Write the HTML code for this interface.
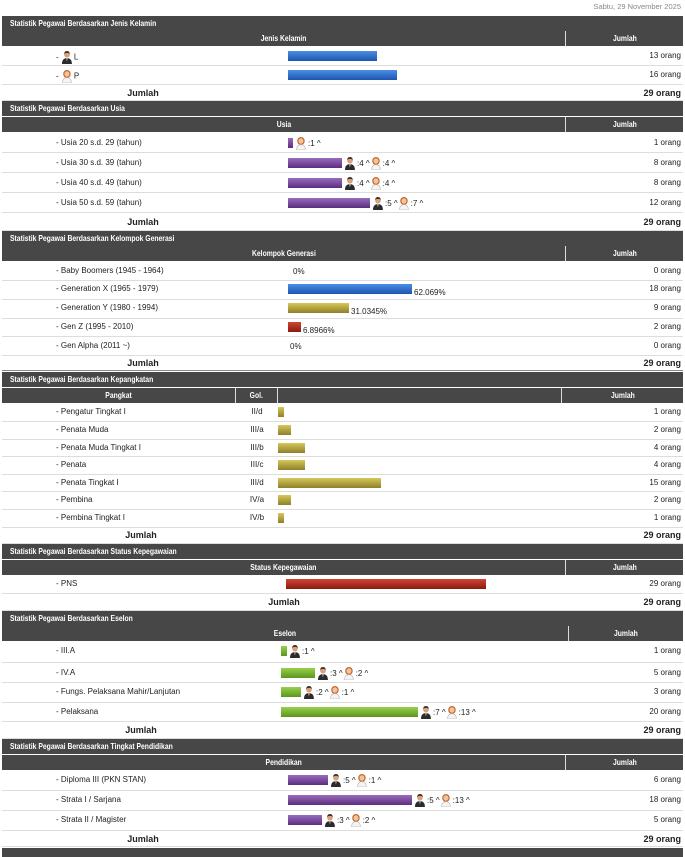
<!DOCTYPE html>
<html><head><meta charset="utf-8"><style>
*{margin:0;padding:0;box-sizing:border-box}
body{width:685px;height:857px;background:#fff;position:relative;overflow:hidden;font-family:"Liberation Sans",sans-serif;color:#222}
.a{position:absolute;white-space:nowrap}
.T{position:absolute;left:2px;width:681px;height:15px;background:#474747;color:#fff;font-weight:bold;font-size:8.5px;line-height:15px;padding-left:8px}
.T span{display:inline-block;transform:scaleX(.8);transform-origin:left center}
.H{position:absolute;height:15px;background:#474747;color:#fff;font-size:8.5px;font-weight:bold;line-height:15px;text-align:center;border-right:1px solid #ddd}
.H span{display:inline-block;transform:scaleX(.8)}
.L{position:absolute;left:56px;font-size:8px;line-height:10px;height:10px;white-space:nowrap}
.R{position:absolute;right:4px;font-size:8px;line-height:10px;height:10px;white-space:nowrap}
.J{position:absolute;font-size:9px;font-weight:bold;line-height:12px;width:60px;text-align:center;margin-left:-30px}
.JR{position:absolute;right:4px;font-size:9px;font-weight:bold;line-height:12px}
.S{position:absolute;left:2px;width:681px;height:1px;background:#ddd}
.b{position:absolute;height:10px;display:flex;align-items:center;font-size:8px;white-space:nowrap}
.b i{display:inline-block;height:10px;margin-right:2px}
.bl{background:linear-gradient(#4a8ee6,#1d55b0)}
.pu{background:linear-gradient(#9a6cbc,#5c2d80)}
.ol{background:linear-gradient(#d6c85a,#8f7f2a)}
.rd{background:linear-gradient(#d04535,#8a1a10)}
.gr{background:linear-gradient(#9ad04a,#5a9620)}
.m,.f{display:inline-block;width:10px;height:13px;margin:0 2px 0 1px;vertical-align:middle}
.Gc{position:absolute;left:236px;width:42px;text-align:center;font-size:8px;line-height:10px}
</style></head><body>
<svg width="0" height="0" style="position:absolute"><defs>
<g id="mm" transform="scale(1.1,1.18)"><circle cx="4.5" cy="3" r="2.6" fill="#d9a27a"/><path d="M2 2.6Q2 0 4.5 0Q7 0 7 2.6Q6 1.4 4.5 1.6Q3 1.4 2 2.6Z" fill="#3a2a20"/><path d="M0 11Q0 6 4.5 6Q9 6 9 11Z" fill="#2b2b2b"/><path d="M4 6L4.5 9L5 6Z" fill="#fff"/></g>
<g id="ff" transform="scale(1.1,1.18)"><circle cx="4.5" cy="3.4" r="3.4" fill="#c8692a"/><circle cx="4.5" cy="3.4" r="2.3" fill="#f0c4a0"/><path d="M0.5 11Q0.5 6.5 4.5 6.5Q8.5 6.5 8.5 11Z" fill="#f4f4f4" stroke="#bbb" stroke-width=".6"/></g>
</defs></svg>

<div class="a" style="right:4px;top:2px;font-size:7.5px;color:#888">Sabtu, 29 November 2025</div>

<!-- Sec1 -->
<div class="T" style="top:16px"><span>Statistik Pegawai Berdasarkan Jenis Kelamin</span></div>
<div class="H" style="top:31px;left:2px;width:564px"><span>Jenis Kelamin</span></div>
<div class="H" style="top:31px;left:566px;width:117px;border:0"><span>Jumlah</span></div>
<div class="L" style="top:51px">- <svg class="m"><use href="#mm"/></svg>L</div>
<div class="b" style="left:288px;top:51px"><i class="bl" style="width:89px"></i></div>
<div class="R" style="top:51px">13 orang</div>
<div class="S" style="top:65px"></div>
<div class="L" style="top:70px">- <svg class="f"><use href="#ff"/></svg>P</div>
<div class="b" style="left:288px;top:70px"><i class="bl" style="width:109px"></i></div>
<div class="R" style="top:70px">16 orang</div>
<div class="S" style="top:84px"></div>
<div class="J" style="left:143px;top:87px">Jumlah</div><div class="JR" style="top:87px">29 orang</div>
<div class="S" style="top:100px"></div>

<!-- Sec2 -->
<div class="T" style="top:101px"><span>Statistik Pegawai Berdasarkan Usia</span></div>
<div class="H" style="top:117px;left:2px;width:564px"><span>Usia</span></div>
<div class="H" style="top:117px;left:566px;width:117px;border:0"><span>Jumlah</span></div>
<div class="L" style="top:138px">- Usia 20 s.d. 29 (tahun)</div>
<div class="b" style="left:288px;top:138px"><i class="pu" style="width:5px"></i><svg class="f"><use href="#ff"/></svg>:1 ^</div>
<div class="R" style="top:138px">1 orang</div>
<div class="S" style="top:152px"></div>
<div class="L" style="top:158px">- Usia 30 s.d. 39 (tahun)</div>
<div class="b" style="left:288px;top:158px"><i class="pu" style="width:54px"></i><svg class="m"><use href="#mm"/></svg>:4 ^ <svg class="f"><use href="#ff"/></svg>:4 ^</div>
<div class="R" style="top:158px">8 orang</div>
<div class="S" style="top:172px"></div>
<div class="L" style="top:178px">- Usia 40 s.d. 49 (tahun)</div>
<div class="b" style="left:288px;top:178px"><i class="pu" style="width:54px"></i><svg class="m"><use href="#mm"/></svg>:4 ^ <svg class="f"><use href="#ff"/></svg>:4 ^</div>
<div class="R" style="top:178px">8 orang</div>
<div class="S" style="top:192px"></div>
<div class="L" style="top:198px">- Usia 50 s.d. 59 (tahun)</div>
<div class="b" style="left:288px;top:198px"><i class="pu" style="width:82px"></i><svg class="m"><use href="#mm"/></svg>:5 ^ <svg class="f"><use href="#ff"/></svg>:7 ^</div>
<div class="R" style="top:198px">12 orang</div>
<div class="S" style="top:212px"></div>
<div class="J" style="left:143px;top:216px">Jumlah</div><div class="JR" style="top:216px">29 orang</div>
<div class="S" style="top:230px"></div>

<!-- Sec3 -->
<div class="T" style="top:231px"><span>Statistik Pegawai Berdasarkan Kelompok Generasi</span></div>
<div class="H" style="top:246px;left:2px;width:564px"><span>Kelompok Generasi</span></div>
<div class="H" style="top:246px;left:566px;width:117px;border:0"><span>Jumlah</span></div>
<div class="L" style="top:266px">- Baby Boomers (1945 - 1964)</div>
<div class="b" style="left:293px;top:266px">0%</div>
<div class="R" style="top:266px">0 orang</div>
<div class="S" style="top:280px"></div>
<div class="L" style="top:284px">- Generation X (1965 - 1979)</div>
<div class="b" style="left:288px;top:284px"><i class="bl" style="width:124px"></i><span style="margin-top:6px">62.069%</span></div>
<div class="R" style="top:284px">18 orang</div>
<div class="S" style="top:299px"></div>
<div class="L" style="top:303px">- Generation Y (1980 - 1994)</div>
<div class="b" style="left:288px;top:303px"><i class="ol" style="width:61px"></i><span style="margin-top:6px">31.0345%</span></div>
<div class="R" style="top:303px">9 orang</div>
<div class="S" style="top:318px"></div>
<div class="L" style="top:322px">- Gen Z (1995 - 2010)</div>
<div class="b" style="left:288px;top:322px"><i class="rd" style="width:13px"></i><span style="margin-top:6px">6.8966%</span></div>
<div class="R" style="top:322px">2 orang</div>
<div class="S" style="top:336px"></div>
<div class="L" style="top:341px">- Gen Alpha (2011 ~)</div>
<div class="b" style="left:290px;top:341px">0%</div>
<div class="R" style="top:341px">0 orang</div>
<div class="S" style="top:355px"></div>
<div class="J" style="left:143px;top:357px">Jumlah</div><div class="JR" style="top:357px">29 orang</div>
<div class="S" style="top:370px;background:#888"></div>

<!-- Sec4 -->
<div class="T" style="top:372px"><span>Statistik Pegawai Berdasarkan Kepangkatan</span></div>
<div class="H" style="top:388px;left:2px;width:234px"><span>Pangkat</span></div>
<div class="H" style="top:388px;left:236px;width:42px"><span>Gol.</span></div>
<div class="H" style="top:388px;left:278px;width:284px"></div>
<div class="H" style="top:388px;left:562px;width:121px;border:0"><span>Jumlah</span></div>
<div class="L" style="top:407px">- Pengatur Tingkat I</div><div class="Gc" style="top:407px">II/d</div>
<div class="b" style="left:278px;top:407px"><i class="ol" style="width:6px"></i></div><div class="R" style="top:407px">1 orang</div>
<div class="S" style="top:421px"></div>
<div class="L" style="top:425px">- Penata Muda</div><div class="Gc" style="top:425px">III/a</div>
<div class="b" style="left:278px;top:425px"><i class="ol" style="width:13px"></i></div><div class="R" style="top:425px">2 orang</div>
<div class="S" style="top:439px"></div>
<div class="L" style="top:443px">- Penata Muda Tingkat I</div><div class="Gc" style="top:443px">III/b</div>
<div class="b" style="left:278px;top:443px"><i class="ol" style="width:27px"></i></div><div class="R" style="top:443px">4 orang</div>
<div class="S" style="top:456px"></div>
<div class="L" style="top:460px">- Penata</div><div class="Gc" style="top:460px">III/c</div>
<div class="b" style="left:278px;top:460px"><i class="ol" style="width:27px"></i></div><div class="R" style="top:460px">4 orang</div>
<div class="S" style="top:474px"></div>
<div class="L" style="top:478px">- Penata Tingkat I</div><div class="Gc" style="top:478px">III/d</div>
<div class="b" style="left:278px;top:478px"><i class="ol" style="width:103px"></i></div><div class="R" style="top:478px">15 orang</div>
<div class="S" style="top:491px"></div>
<div class="L" style="top:495px">- Pembina</div><div class="Gc" style="top:495px">IV/a</div>
<div class="b" style="left:278px;top:495px"><i class="ol" style="width:13px"></i></div><div class="R" style="top:495px">2 orang</div>
<div class="S" style="top:509px"></div>
<div class="L" style="top:513px">- Pembina Tingkat I</div><div class="Gc" style="top:513px">IV/b</div>
<div class="b" style="left:278px;top:513px"><i class="ol" style="width:6px"></i></div><div class="R" style="top:513px">1 orang</div>
<div class="S" style="top:527px"></div>
<div class="J" style="left:141px;top:529px">Jumlah</div><div class="JR" style="top:529px">29 orang</div>
<div class="S" style="top:543px"></div>

<!-- Sec5 -->
<div class="T" style="top:544px"><span>Statistik Pegawai Berdasarkan Status Kepegawaian</span></div>
<div class="H" style="top:560px;left:2px;width:564px"><span>Status Kepegawaian</span></div>
<div class="H" style="top:560px;left:566px;width:117px;border:0"><span>Jumlah</span></div>
<div class="L" style="top:579px">- PNS</div>
<div class="b" style="left:286px;top:579px"><i class="rd" style="width:200px"></i></div>
<div class="R" style="top:579px">29 orang</div>
<div class="S" style="top:593px"></div>
<div class="J" style="left:284px;top:596px">Jumlah</div><div class="JR" style="top:596px">29 orang</div>
<div class="S" style="top:610px"></div>

<!-- Sec6 -->
<div class="T" style="top:611px"><span>Statistik Pegawai Berdasarkan Eselon</span></div>
<div class="H" style="top:626px;left:2px;width:567px"><span>Eselon</span></div>
<div class="H" style="top:626px;left:569px;width:114px;border:0"><span>Jumlah</span></div>
<div class="L" style="top:646px">- III.A</div>
<div class="b" style="left:281px;top:646px"><i class="gr" style="width:6px"></i><svg class="m"><use href="#mm"/></svg>:1 ^</div>
<div class="R" style="top:646px">1 orang</div>
<div class="S" style="top:662px"></div>
<div class="L" style="top:668px">- IV.A</div>
<div class="b" style="left:281px;top:668px"><i class="gr" style="width:34px"></i><svg class="m"><use href="#mm"/></svg>:3 ^ <svg class="f"><use href="#ff"/></svg>:2 ^</div>
<div class="R" style="top:668px">5 orang</div>
<div class="S" style="top:682px"></div>
<div class="L" style="top:687px">- Fungs. Pelaksana Mahir/Lanjutan</div>
<div class="b" style="left:281px;top:687px"><i class="gr" style="width:20px"></i><svg class="m"><use href="#mm"/></svg>:2 ^ <svg class="f"><use href="#ff"/></svg>:1 ^</div>
<div class="R" style="top:687px">3 orang</div>
<div class="S" style="top:702px"></div>
<div class="L" style="top:707px">- Pelaksana</div>
<div class="b" style="left:281px;top:707px"><i class="gr" style="width:137px"></i><svg class="m"><use href="#mm"/></svg>:7 ^ <svg class="f"><use href="#ff"/></svg>:13 ^</div>
<div class="R" style="top:707px">20 orang</div>
<div class="S" style="top:721px"></div>
<div class="J" style="left:141px;top:724px">Jumlah</div><div class="JR" style="top:724px">29 orang</div>
<div class="S" style="top:738px"></div>

<!-- Sec7 -->
<div class="T" style="top:739px"><span>Statistik Pegawai Berdasarkan Tingkat Pendidikan</span></div>
<div class="H" style="top:755px;left:2px;width:564px"><span>Pendidikan</span></div>
<div class="H" style="top:755px;left:566px;width:117px;border:0"><span>Jumlah</span></div>
<div class="L" style="top:775px">- Diploma III (PKN STAN)</div>
<div class="b" style="left:288px;top:775px"><i class="pu" style="width:40px"></i><svg class="m"><use href="#mm"/></svg>:5 ^ <svg class="f"><use href="#ff"/></svg>:1 ^</div>
<div class="R" style="top:775px">6 orang</div>
<div class="S" style="top:790px"></div>
<div class="L" style="top:795px">- Strata I / Sarjana</div>
<div class="b" style="left:288px;top:795px"><i class="pu" style="width:124px"></i><svg class="m"><use href="#mm"/></svg>:5 ^ <svg class="f"><use href="#ff"/></svg>:13 ^</div>
<div class="R" style="top:795px">18 orang</div>
<div class="S" style="top:810px"></div>
<div class="L" style="top:815px">- Strata II / Magister</div>
<div class="b" style="left:288px;top:815px"><i class="pu" style="width:34px"></i><svg class="m"><use href="#mm"/></svg>:3 ^ <svg class="f"><use href="#ff"/></svg>:2 ^</div>
<div class="R" style="top:815px">5 orang</div>
<div class="S" style="top:830px"></div>
<div class="J" style="left:143px;top:833px">Jumlah</div><div class="JR" style="top:833px">29 orang</div>
<div class="S" style="top:846px"></div>
<div class="a" style="left:2px;top:848px;width:681px;height:9px;background:#474747"></div>
</body></html>
